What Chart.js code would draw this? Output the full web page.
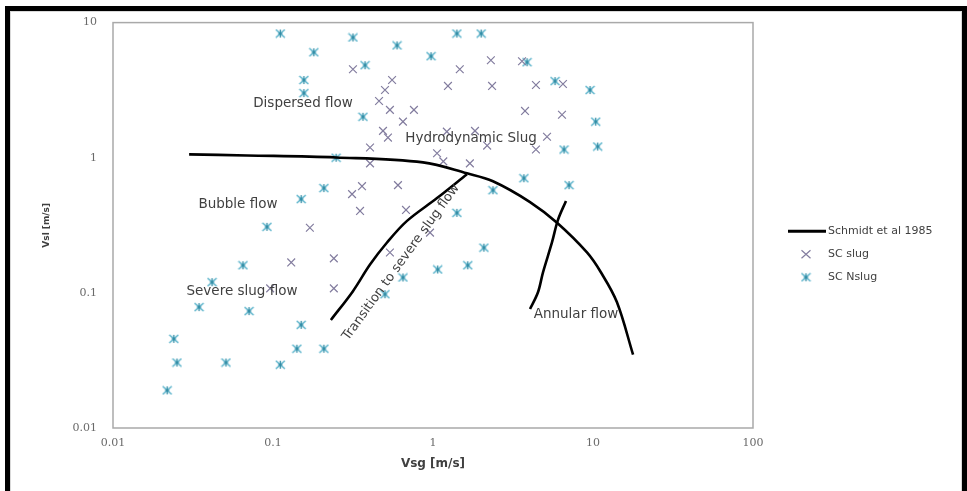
<!DOCTYPE html>
<html>
<head>
<meta charset="utf-8">
<script src="https://cdn.jsdelivr.net/npm/chart.js@4.4.1/dist/chart.umd.min.js"></script>
<style>
  html, body { margin: 0; padding: 0; background: #fff; }
  #wrap { position: relative; width: 967px; height: 491px; overflow: hidden; background: #fff; }
  #wrap canvas { position: absolute; left: 0; top: 0; }
  #frame { position: absolute; left: 5px; top: 6px; right: 0; bottom: -20px;
           border: 5px solid #000; border-bottom: none; pointer-events: none; }
  #frame::after { content: ""; position: absolute; left: 0; top: 0; right: 0; bottom: 0;
                  border: 1px solid #d9d9d9; border-bottom: none; }
</style>
</head>
<body>
<div id="wrap">
  <canvas id="chart" width="967" height="491"></canvas>
  <div id="frame"></div>
</div>
<script>
// Superficial gas / liquid velocities (m/s), slugging test points
const slugVsg = [0.316, 0.555, 0.501, 0.460, 0.538, 0.760, 0.649, 0.487, 0.523, 0.404,
                 0.404, 0.360, 0.312, 0.604, 0.350, 0.678, 0.170, 0.240, 0.130, 0.240,
                 0.958, 0.538, 0.096, 1.06, 1.16, 1.70, 2.18, 4.40, 5.16, 1.47,
                 2.30, 1.24, 2.34, 4.40, 3.76, 6.40, 6.49, 3.60, 1.22, 1.83];
const slugVsl = [4.52, 3.76, 3.17, 2.63, 2.26, 2.26, 1.85, 1.58, 1.41, 1.19,
                 0.908, 0.616, 0.538, 0.627, 0.404, 0.411, 0.303, 0.180, 0.168, 0.108,
                 0.279, 0.199, 0.108, 1.08, 0.94, 0.908, 1.23, 1.15, 1.43, 4.52,
                 5.26, 3.40, 3.40, 3.45, 2.22, 2.08, 3.51, 5.18, 1.56, 1.58];

// Non-slugging test points
const nslugVsg = [0.111, 0.316, 0.596, 1.41, 2.0, 0.180, 0.972, 0.376, 0.156, 0.156,
                  0.365, 3.87, 5.79, 9.58, 10.4, 10.7, 6.59, 7.08, 3.70, 2.37,
                  1.41, 2.08, 1.65, 1.07, 0.649, 0.501, 0.248, 0.208, 0.150, 0.0917,
                  0.0649, 0.0416, 0.0345, 0.0708, 0.150, 0.0240, 0.0251, 0.0508, 0.111, 0.141,
                  0.208, 0.0218];
const nslugVsl = [8.30, 7.76, 6.78, 8.30, 8.30, 6.03, 5.64, 4.84, 3.76, 3.01,
                  2.01, 5.09, 3.69, 3.17, 1.85, 1.21, 1.15, 0.627, 0.705, 0.575,
                  0.391, 0.216, 0.160, 0.149, 0.130, 0.0977, 1.0, 0.596, 0.494, 0.308,
                  0.160, 0.120, 0.0785, 0.0733, 0.058, 0.0457, 0.0305, 0.0305, 0.0294, 0.0386,
                  0.0386, 0.0190];

// Schmidt et al. (1985) flow-regime boundaries
const boundaryVsg = [0.0299, 0.0688, 0.248, 0.866, 1.63, 2.37, 4.04, 5.96, 9.17, 11.2, 14.1, 17.8];
const boundaryVsl = [1.058, 1.04, 1.005, 0.924, 0.767, 0.670, 0.470, 0.330, 0.199, 0.142, 0.0855, 0.0349];
const transitionVsg = [0.230, 0.316, 0.404, 0.516, 0.688, 1.06, 1.63];
const transitionVsl = [0.063, 0.103, 0.162, 0.236, 0.341, 0.503, 0.755];
const annularVsg = [4.04, 4.53, 4.87, 5.54, 6.04, 6.78];
const annularVsl = [0.0759, 0.101, 0.142, 0.236, 0.347, 0.479];

// Axis ticks
const decadeTicks = [0.01, 0.1, 1, 10, 100];
const xTickLabels = ['0.01', '0.1', '1', '10', '100'];
const yTickLabels = ['0.01', '0.1', '1', '10'];

// Regime names, anchored in data units
const regionNames = ['Dispersed flow', 'Hydrodynamic Slug', 'Bubble flow', 'Severe slug flow',
                     'Annular flow', 'Transition to severe slug flow'];
const regionVsg = [0.154, 1.73, 0.0604, 0.0640, 7.83, 0.631];
const regionVsl = [2.50, 1.39, 0.447, 0.103, 0.0697, 0.168];

const pairs = (xs, ys) => xs.map((x, i) => ({ x: x, y: ys[i] }));

const SLUG_COLOR = '#837d9f';
const NSLUG_COLOR = '#4bacc6';
const NSLUG_CORE = '#2f8aa3';
const LINE_COLOR = '#000000';
const TEXT_COLOR = '#404040';

// asterisk marker: diagonal cross with a vertical stroke
function makeAsterisk() {
  const w = 11, h = 10;
  const c = document.createElement('canvas');
  c.width = w; c.height = h;
  const g = c.getContext('2d');
  g.lineWidth = 1.3;
  g.strokeStyle = NSLUG_COLOR;
  g.beginPath();
  g.moveTo(1, 1); g.lineTo(w - 1, h - 1);
  g.moveTo(w - 1, 1); g.lineTo(1, h - 1);
  g.stroke();
  g.strokeStyle = NSLUG_CORE;
  g.beginPath();
  g.moveTo(w / 2, 1); g.lineTo(w / 2, h - 1);
  g.moveTo(w / 2 - 2, h / 2); g.lineTo(w / 2 + 2, h / 2);
  g.stroke();
  return c;
}
const asterisk = makeAsterisk();

const lineStyle = {
  type: 'scatter', showLine: true, borderColor: LINE_COLOR, borderWidth: 2.6,
  pointRadius: 0, pointHoverRadius: 0, tension: 0.35, fill: false
};

const plotFrame = {
  id: 'plotFrame',
  beforeDatasetsDraw(chart) {
    const a = chart.chartArea, ctx = chart.ctx;
    ctx.save();
    ctx.strokeStyle = '#a9a9a9';
    ctx.lineWidth = 1.5;
    ctx.strokeRect(a.left, a.top, a.right - a.left, a.bottom - a.top);
    ctx.restore();
  }
};

const regionText = {
  id: 'regionText',
  afterDatasetsDraw(chart) {
    const ctx = chart.ctx, sx = chart.scales.x, sy = chart.scales.y;
    ctx.save();
    ctx.fillStyle = TEXT_COLOR;
    ctx.textAlign = 'center';
    ctx.textBaseline = 'middle';
    regionNames.forEach((name, i) => {
      const px = sx.getPixelForValue(regionVsg[i]);
      const py = sy.getPixelForValue(regionVsl[i]);
      ctx.save();
      ctx.translate(px, py);
      if (i === regionNames.length - 1) {
        ctx.rotate(-54 * Math.PI / 180);
        ctx.font = '13px "DejaVu Sans"';
      } else {
        ctx.font = '13.5px "DejaVu Sans"';
      }
      ctx.fillText(name, 0, 0);
      ctx.restore();
    });
    ctx.restore();
  }
};

const sideLegend = {
  id: 'sideLegend',
  afterDraw(chart) {
    const ctx = chart.ctx, a = chart.chartArea;
    const x0 = a.right + 35;
    const y0 = (a.top + a.bottom) / 2 + 6;
    const step = 23;
    const textX = x0 + 40;
    const sets = chart.data.datasets;
    ctx.save();
    ctx.font = '11px "DejaVu Sans"';
    ctx.fillStyle = TEXT_COLOR;
    ctx.textBaseline = 'middle';
    ctx.textAlign = 'left';
    // line entry
    ctx.strokeStyle = LINE_COLOR;
    ctx.lineWidth = 3;
    ctx.beginPath();
    ctx.moveTo(x0, y0); ctx.lineTo(x0 + 38, y0);
    ctx.stroke();
    ctx.fillText(sets[0].label, textX, y0);
    // cross entry
    const y1 = y0 + step, mx = x0 + 18;
    ctx.strokeStyle = SLUG_COLOR;
    ctx.lineWidth = 1.2;
    ctx.beginPath();
    ctx.moveTo(mx - 4.5, y1 - 4); ctx.lineTo(mx + 4.5, y1 + 4);
    ctx.moveTo(mx + 4.5, y1 - 4); ctx.lineTo(mx - 4.5, y1 + 4);
    ctx.stroke();
    ctx.fillText(sets[3].label, textX, y1);
    // asterisk entry
    const y2 = y0 + 2 * step;
    ctx.drawImage(asterisk, mx - asterisk.width / 2, y2 - asterisk.height / 2);
    ctx.fillText(sets[4].label, textX, y2);
    ctx.restore();
  }
};

const tickFont = { family: '"DejaVu Serif"', size: 11 };
const tickColor = '#6a6a6a';

new Chart(document.getElementById('chart'), {
  type: 'scatter',
  data: {
    datasets: [
      Object.assign({ label: 'Schmidt et al 1985', data: pairs(boundaryVsg, boundaryVsl) }, lineStyle),
      Object.assign({ label: 'Schmidt et al 1985', data: pairs(transitionVsg, transitionVsl) }, lineStyle),
      Object.assign({ label: 'Schmidt et al 1985', data: pairs(annularVsg, annularVsl) }, lineStyle),
      {
        label: 'SC slug', data: pairs(slugVsg, slugVsl),
        pointStyle: 'crossRot', pointRadius: 5.5, borderColor: SLUG_COLOR,
        backgroundColor: SLUG_COLOR, borderWidth: 1.2
      },
      {
        label: 'SC Nslug', data: pairs(nslugVsg, nslugVsl),
        pointStyle: asterisk, pointRadius: 5, borderColor: NSLUG_COLOR,
        backgroundColor: NSLUG_COLOR
      }
    ]
  },
  options: {
    responsive: false,
    animation: false,
    devicePixelRatio: 1,
    layout: { padding: { left: 0, top: 18, right: 214, bottom: 0 } },
    plugins: { legend: { display: false }, tooltip: { enabled: false } },
    scales: {
      x: {
        type: 'logarithmic', min: 0.01, max: 100, position: 'bottom',
        afterBuildTicks: s => { s.ticks = decadeTicks.map(v => ({ value: v })); },
        afterFit: s => { s.height = 63; },
        grid: { display: false, drawTicks: false },
        border: { display: false },
        ticks: {
          autoSkip: false, maxRotation: 0, padding: 9, color: tickColor, font: tickFont,
          callback: (v, i) => xTickLabels[i]
        },
        title: {
          display: true, text: 'Vsg [m/s]', color: TEXT_COLOR,
          font: { family: '"DejaVu Sans"', size: 12, weight: 'bold' },
          padding: { top: 0, bottom: 20 }
        }
      },
      y: {
        type: 'logarithmic', min: 0.01, max: 10, position: 'left',
        afterBuildTicks: s => { s.ticks = decadeTicks.slice(0, 4).map(v => ({ value: v })); },
        afterFit: s => { s.width = 113; },
        grid: { display: false, drawTicks: false },
        border: { display: false },
        ticks: {
          autoSkip: false, padding: 16, color: tickColor, font: tickFont,
          callback: (v, i) => yTickLabels[i]
        },
        title: {
          display: true, text: 'Vsl [m/s]', color: TEXT_COLOR,
          font: { family: '"DejaVu Sans"', size: 9, weight: 'bold' },
          padding: { top: 41, bottom: 0 }
        }
      }
    }
  },
  plugins: [plotFrame, regionText, sideLegend]
});
</script>
</body>
</html>
